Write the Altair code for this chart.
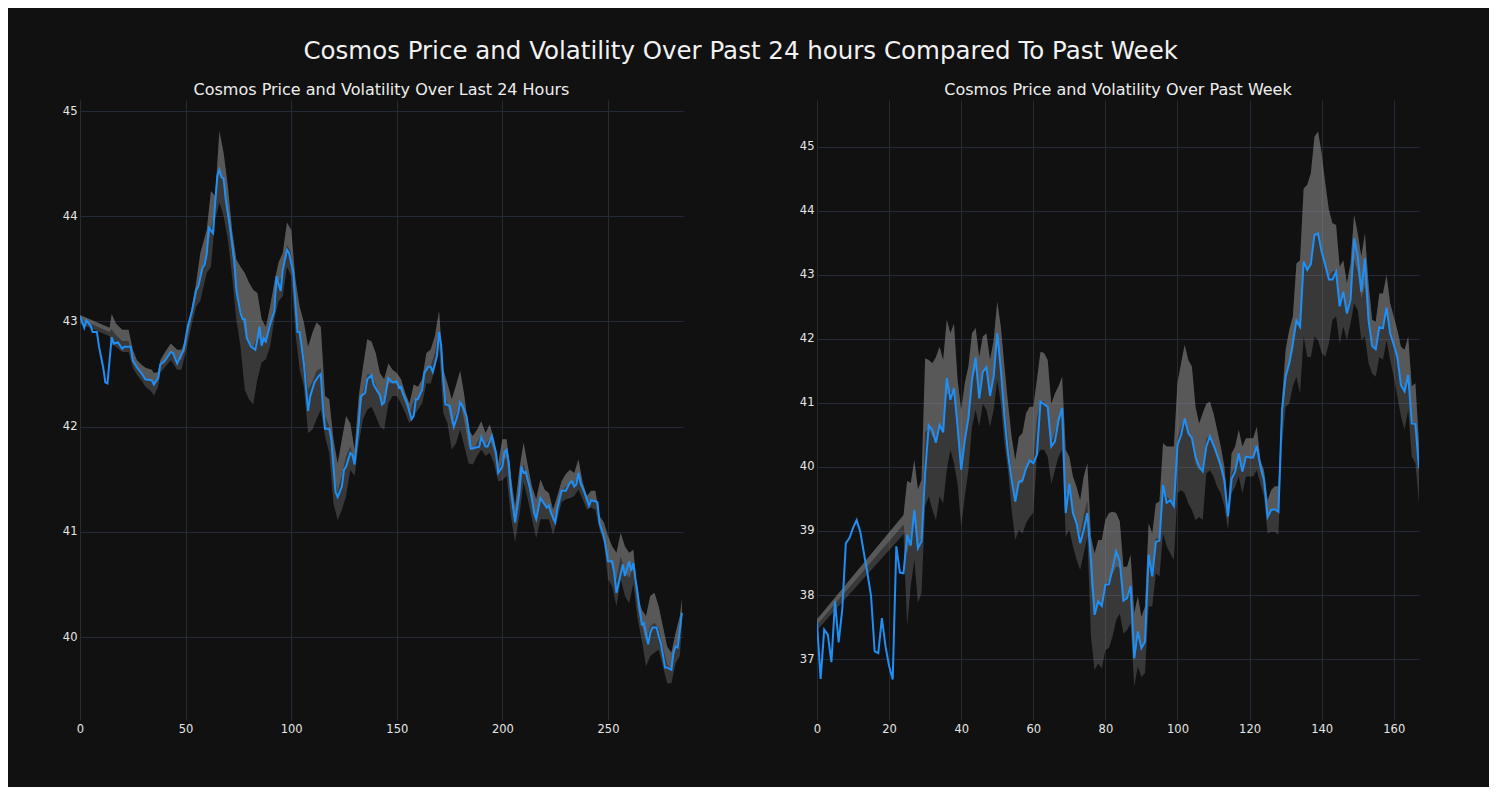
import altair as alt
import pandas as pd

# ---------------- Left panel: last 24 hours ----------------
day_x = [0, 2, 3, 5, 6, 8, 9, 11, 12, 13, 15, 16, 18, 20, 21, 24, 25, 27, 29, 31, 34, 35, 37, 38, 40,
         43, 44, 46, 48, 49, 51, 53, 55, 56, 58, 59, 60, 61, 63, 64, 65, 66, 67, 68, 69, 71, 73, 74, 76,
         77, 78, 79, 81, 83, 84, 85, 86, 87, 88, 90, 92, 93, 95, 96, 98, 99, 101, 102, 103, 104, 106,
         108, 109, 111, 113, 114, 115, 116, 118, 119, 120, 121, 122, 124, 125, 126, 128, 129, 130, 132,
         133, 135, 136, 138, 139, 141, 142, 143, 144, 146, 148, 150, 151, 152, 153, 155, 156, 157, 158,
         159, 160, 162, 163, 165, 166, 167, 169, 170, 171, 172, 173, 175, 177, 178, 179, 180, 181, 183,
         184, 185, 187, 189, 190, 192, 193, 195, 197, 198, 200, 201, 202, 203, 204, 206, 208, 209, 210,
         211, 213, 214, 215, 216, 218, 219, 221, 222, 223, 225, 226, 228, 230, 232, 233, 234, 235, 236,
         237, 239, 241, 242, 244, 245, 246, 248, 249, 250, 252, 253, 254, 256, 257, 258, 260, 261, 262,
         263, 264, 265, 266, 267, 269, 270, 271, 273, 274, 275, 276, 277, 278, 280, 281, 282, 283, 284,
         285]
day_price = [43.05, 42.94, 43.01, 42.96, 42.90, 42.90, 42.76, 42.56, 42.42, 42.41, 42.85, 42.79, 42.80,
             42.74, 42.76, 42.76, 42.63, 42.56, 42.51, 42.45, 42.44, 42.40, 42.46, 42.59, 42.62, 42.71,
             42.70, 42.60, 42.69, 42.72, 42.95, 43.10, 43.30, 43.33, 43.51, 43.54, 43.64, 43.89, 43.84,
             44.13, 44.38, 44.44, 44.37, 44.36, 44.16, 43.90, 43.59, 43.30, 43.08, 43.02, 43.02, 42.84,
             42.76, 42.73, 42.83, 42.95, 42.77, 42.84, 42.81, 42.97, 43.10, 43.43, 43.29, 43.49, 43.68,
             43.65, 43.46, 43.16, 42.90, 42.90, 42.60, 42.15, 42.29, 42.42, 42.48, 42.50, 42.20, 41.98,
             41.98, 41.88, 41.62, 41.38, 41.33, 41.43, 41.59, 41.62, 41.75, 41.73, 41.64, 42.03, 42.29,
             42.32, 42.45, 42.49, 42.40, 42.33, 42.30, 42.21, 42.23, 42.46, 42.42, 42.43, 42.37, 42.38,
             42.31, 42.22, 42.14, 42.07, 42.10, 42.26, 42.26, 42.35, 42.51, 42.57, 42.57, 42.52, 42.67,
             42.90, 42.77, 42.45, 42.21, 42.20, 42.00, 42.06, 42.13, 42.23, 42.20, 42.10, 41.97, 41.79,
             41.80, 41.81, 41.90, 41.81, 41.81, 41.91, 41.75, 41.56, 41.62, 41.76, 41.78, 41.66, 41.40,
             41.09, 41.37, 41.62, 41.56, 41.57, 41.42, 41.31, 41.18, 41.12, 41.32, 41.29, 41.23, 41.25,
             41.18, 41.09, 41.22, 41.39, 41.39, 41.47, 41.48, 41.43, 41.45, 41.56, 41.46, 41.37, 41.25,
             41.30, 41.29, 41.28, 41.08, 40.96, 40.85, 40.72, 40.72, 40.60, 40.42, 40.60, 40.69, 40.58,
             40.72, 40.63, 40.70, 40.55, 40.42, 40.26, 40.12, 40.13, 39.93, 40.04, 40.09, 40.09, 40.01,
             39.94, 39.83, 39.71, 39.71, 39.69, 39.85, 39.91, 39.90, 40.07, 40.23]

day_band_x = [0, 14, 15, 17, 20, 23, 25, 27, 29, 31, 34, 35, 37, 38, 40, 43, 46, 48, 50, 53, 55, 57, 60,
              62, 64, 66, 68, 70, 72, 74, 76, 78, 80, 82, 84, 86, 88, 90, 92, 94, 96, 98, 100, 102, 104,
              106, 108, 110, 112, 114, 116, 118, 120, 122, 124, 126, 128, 130, 132, 134, 136, 138, 140,
              142, 144, 146, 148, 150, 152, 154, 156, 158, 160, 162, 164, 166, 168, 170, 172, 174, 176,
              178, 180, 182, 184, 186, 188, 190, 192, 194, 196, 198, 200, 202, 204, 206, 208, 210, 212,
              214, 216, 218, 220, 222, 224, 226, 228, 230, 232, 234, 236, 238, 240, 242, 244, 246, 248,
              250, 252, 254, 256, 258, 260, 262, 264, 266, 268, 270, 272, 274, 276, 278, 280, 282, 284, 285]
day_band_lo = [42.98, 42.86, 42.78, 42.76, 42.71, 42.71, 42.56, 42.49, 42.44, 42.38, 42.33, 42.29, 42.38,
               42.51, 42.56, 42.63, 42.54, 42.54, 42.70, 42.98, 43.14, 43.20, 43.46, 43.52, 43.97, 44.13,
               44.00, 43.78, 43.43, 43.02, 42.76, 42.35, 42.26, 42.21, 42.45, 42.61, 42.64, 42.76, 43.02,
               43.19, 43.24, 43.52, 43.43, 42.89, 42.54, 42.38, 41.94, 41.97, 42.07, 42.16, 41.91, 41.75,
               41.27, 41.11, 41.21, 41.34, 41.59, 41.53, 41.84, 42.07, 42.16, 42.19, 42.10, 42.00, 41.97,
               42.22, 42.29, 42.29, 42.22, 42.13, 42.03, 42.10, 42.16, 42.22, 42.41, 42.41, 42.54, 42.76,
               42.13, 42.03, 41.78, 41.84, 41.97, 41.81, 41.65, 41.64, 41.72, 41.78, 41.72, 41.75, 41.65,
               41.48, 41.49, 41.53, 41.15, 40.90, 41.15, 41.47, 41.31, 41.12, 40.94, 41.12, 41.12, 41.12,
               40.97, 41.12, 41.28, 41.31, 41.32, 41.34, 41.40, 41.31, 41.21, 41.23, 41.21, 41.02, 40.90,
               40.55, 40.48, 40.29, 40.55, 40.39, 40.32, 40.51, 40.17, 39.97, 39.72, 39.82, 39.85, 39.88,
               39.72, 39.56, 39.56, 39.75, 39.82, 40.10]
day_band_hi = [43.06, 42.94, 43.07, 42.98, 42.92, 42.92, 42.73, 42.63, 42.59, 42.56, 42.54, 42.51, 42.52,
               42.63, 42.70, 42.79, 42.73, 42.73, 42.83, 43.14, 43.37, 43.65, 43.87, 44.24, 44.19, 44.81,
               44.60, 44.29, 43.87, 43.59, 43.52, 43.46, 43.37, 43.30, 43.27, 43.02, 42.95, 43.14, 43.37,
               43.56, 43.65, 43.94, 43.87, 43.40, 43.14, 42.99, 42.76, 42.89, 42.99, 42.95, 42.29, 42.26,
               41.88, 41.65, 41.88, 42.10, 42.03, 41.78, 42.29, 42.57, 42.83, 42.81, 42.70, 42.51, 42.45,
               42.60, 42.54, 42.51, 42.45, 42.32, 42.22, 42.40, 42.38, 42.45, 42.70, 42.73, 42.86, 43.10,
               42.54, 42.41, 42.26, 42.39, 42.53, 42.29, 41.97, 41.91, 41.97, 42.05, 41.94, 42.02, 41.88,
               41.65, 41.88, 41.88, 41.53, 41.24, 41.59, 41.85, 41.63, 41.43, 41.31, 41.50, 41.40, 41.37,
               41.21, 41.34, 41.48, 41.55, 41.59, 41.56, 41.69, 41.47, 41.34, 41.39, 41.39, 41.15, 41.09,
               40.96, 40.86, 40.80, 40.99, 40.86, 40.80, 40.83, 40.39, 40.26, 40.20, 40.39, 40.42, 40.29,
               40.10, 39.91, 39.85, 40.04, 40.20, 40.36]

# ---------------- Right panel: past week ----------------
week_x = list(range(168))
week_price = [37.57, 36.69, 37.46, 37.38, 36.95, 37.90, 37.26, 37.77, 38.81, 38.89, 39.05, 39.17, 38.99,
              38.66, 38.34, 37.98, 37.12, 37.09, 37.64, 37.20, 36.89, 36.68, 38.76, 38.35, 38.34, 38.94,
              38.77, 39.33, 38.73, 38.84, 39.91, 40.65, 40.58, 40.38, 40.66, 40.54, 41.39, 41.05, 41.23,
              40.63, 39.96, 40.42, 40.76, 41.36, 41.71, 41.07, 41.49, 41.56, 41.11, 41.41, 42.09, 41.52,
              40.79, 40.21, 39.80, 39.46, 39.77, 39.79, 39.98, 40.10, 40.06, 40.19, 41.02, 40.98, 40.94,
              40.32, 40.40, 40.73, 40.92, 39.28, 39.74, 39.28, 39.12, 38.81, 39.02, 39.28, 38.55, 37.69,
              37.90, 37.83, 38.16, 38.17, 38.42, 38.68, 38.52, 37.91, 37.95, 38.14, 37.01, 37.43, 37.17,
              37.27, 38.63, 38.29, 38.83, 38.85, 39.72, 39.44, 39.48, 39.39, 40.34, 40.50, 40.76, 40.53,
              40.45, 40.16, 40.01, 39.93, 40.32, 40.48, 40.34, 40.19, 40.03, 39.80, 39.23, 39.81, 39.93,
              40.21, 39.93, 40.16, 40.15, 40.15, 40.33, 40.01, 39.80, 39.22, 39.33, 39.34, 39.30, 40.89,
              41.41, 41.62, 41.93, 42.29, 42.19, 43.21, 43.08, 43.17, 43.63, 43.65, 43.36, 43.16, 42.93,
              42.93, 43.05, 42.51, 42.74, 42.40, 42.61, 43.57, 43.29, 42.74, 43.26, 42.30, 41.89, 41.84,
              42.19, 42.17, 42.49, 42.09, 41.91, 41.72, 41.28, 41.18, 41.44, 40.68, 40.67, 39.98]

week_band_x = [0] + list(range(24, 168))
week_band_lo = [37.45, 38.95, 37.51, 38.14, 38.55, 37.88, 38.03, 39.39, 39.54, 39.33, 39.17, 39.54, 39.43,
                39.95, 40.27, 40.06, 39.74, 39.07, 39.54, 39.95, 40.63, 40.89, 40.63, 40.99, 40.89, 40.63,
                40.89, 41.36, 40.99, 40.37, 39.95, 39.33, 38.86, 39.02, 38.96, 39.12, 39.22, 39.28, 40.16,
                40.27, 40.27, 40.16, 39.74, 39.95, 40.16, 40.27, 38.91, 39.02, 38.76, 38.55, 38.39, 38.65,
                38.91, 37.35, 36.83, 36.93, 36.85, 37.14, 37.17, 37.35, 37.61, 37.71, 37.40, 37.45, 37.56,
                36.57, 36.88, 36.72, 36.78, 37.82, 37.82, 38.34, 38.29, 38.96, 38.76, 38.65, 38.55, 39.59,
                39.64, 39.59, 39.43, 39.33, 39.17, 39.22, 39.17, 39.90, 39.95, 39.85, 39.69, 39.59, 39.38,
                39.02, 39.59, 39.69, 39.85, 39.59, 39.85, 39.85, 39.85, 39.95, 39.74, 39.54, 38.96, 38.99,
                38.99, 38.94, 40.37, 40.94, 40.99, 41.26, 41.41, 41.15, 42.04, 41.72, 41.72, 42.04, 41.98,
                41.78, 41.72, 41.93, 42.30, 42.35, 41.93, 42.19, 41.98, 42.24, 42.56, 42.45, 41.98, 42.04,
                41.62, 41.46, 41.41, 41.72, 41.67, 41.98, 41.67, 41.41, 41.10, 40.79, 40.58, 40.89, 40.16,
                40.06, 39.43]
week_band_hi = [37.62, 39.25, 39.78, 39.75, 40.11, 39.65, 39.80, 41.70, 41.67, 41.62, 41.72, 41.88, 41.67,
                42.30, 42.09, 42.24, 41.36, 40.89, 41.31, 41.57, 42.09, 42.17, 41.72, 42.04, 42.09, 41.67,
                41.98, 42.58, 42.19, 41.57, 40.99, 40.47, 40.11, 40.47, 40.53, 40.84, 40.94, 40.94, 41.36,
                41.80, 41.78, 41.67, 40.99, 41.15, 41.26, 41.41, 40.27, 40.16, 39.85, 39.69, 39.48, 39.85,
                40.06, 38.91, 38.65, 38.86, 38.86, 39.17, 39.28, 39.30, 39.28, 39.15, 38.44, 38.44, 38.63,
                37.72, 37.98, 37.66, 37.82, 39.12, 38.96, 39.43, 39.46, 40.37, 40.32, 40.32, 40.32, 41.31,
                41.62, 41.91, 41.67, 41.57, 40.94, 40.68, 40.84, 40.99, 41.02, 40.84, 40.58, 40.32, 40.01,
                39.33, 40.21, 40.32, 40.58, 40.32, 40.45, 40.45, 40.45, 40.63, 40.11, 39.95, 39.48, 39.64,
                39.70, 39.70, 41.05, 41.83, 42.14, 42.35, 43.18, 43.23, 44.35, 44.41, 44.59, 45.16, 45.24,
                44.90, 44.43, 44.02, 43.81, 43.78, 43.13, 43.23, 42.87, 43.18, 43.94, 43.65, 43.29, 43.65,
                42.87, 42.30, 42.27, 42.71, 42.71, 43.00, 42.56, 42.35, 42.14, 41.88, 41.83, 42.04, 41.26,
                41.31, 40.37]

day_xticks = [0, 50, 100, 150, 200, 250]
day_yticks = [40, 41, 42, 43, 44, 45]
week_xticks = [0, 20, 40, 60, 80, 100, 120, 140, 160]
week_yticks = [37, 38, 39, 40, 41, 42, 43, 44, 45]

BG = "#111111"
GRID = "#242b36"
LABEL = "#e6e6e6"
FONT = "DejaVu Sans"


def panel(lx, ly, bx, blo, bhi, xdom, ydom, xticks, yticks, title, width):
    line_df = pd.DataFrame({"x": lx, "price": ly})
    band_df = pd.DataFrame({"x": bx, "lo": blo, "hi": bhi})
    xs = alt.Scale(domain=xdom, nice=False, zero=False)
    ys = alt.Scale(domain=ydom, nice=False, zero=False)
    xaxis = alt.Axis(values=xticks, format="d", grid=True, gridColor=GRID, gridWidth=1, domain=False,
                     ticks=False, labelPadding=3, labelColor=LABEL, labelFontSize=11.5, labelFont=FONT,
                     title=None, labelFlush=False)
    yaxis = alt.Axis(values=yticks, format="d", grid=True, gridColor=GRID, gridWidth=1, domain=False,
                     ticks=False, labelPadding=3, labelColor=LABEL, labelFontSize=11.5, labelFont=FONT,
                     title=None, labelFlush=False)
    band_dark = alt.Chart(band_df).mark_area(color="#999999", opacity=0.29, clip=True).encode(
        x=alt.X("x:Q", scale=xs, axis=xaxis),
        y=alt.Y("lo:Q", scale=ys, axis=yaxis),
        y2="hi:Q",
    )
    band_light = alt.Chart(band_df).transform_calculate(
        mid="(datum.lo + datum.hi) / 2"
    ).mark_area(color="#999999", opacity=0.34, clip=True).encode(
        x=alt.X("x:Q", scale=xs),
        y=alt.Y("mid:Q", scale=ys),
        y2="hi:Q",
    )
    line = alt.Chart(line_df).mark_line(color="#1f8ff5", strokeWidth=2, clip=True).encode(
        x=alt.X("x:Q", scale=xs),
        y=alt.Y("price:Q", scale=ys),
    )
    return alt.layer(band_dark, band_light, line).properties(
        width=width, height=620,
        title=alt.TitleParams(title, fontSize=16, font=FONT, fontWeight="normal", color="#eeeeee",
                              offset=2, anchor="middle"),
    )


left = panel(day_x, day_price, day_band_x, day_band_lo, day_band_hi, [0, 285.5], [39.211, 45.105],
             day_xticks, day_yticks, "Cosmos Price and Volatility Over Last 24 Hours", 603)
right = panel(week_x, week_price, week_band_x, week_band_lo, week_band_hi, [0, 167], [36.047, 45.734],
              week_xticks, week_yticks, "Cosmos Price and Volatility Over Past Week", 602)

chart = alt.hconcat(left, right, spacing=134, bounds="flush").properties(
    background=BG,
    padding={"left": 54, "top": 30, "right": 70, "bottom": 52},
    title=alt.TitleParams("Cosmos Price and Volatility Over Past 24 hours Compared To Past Week",
                          fontSize=24.5, font=FONT, fontWeight="normal", color="#f2f2f2",
                          anchor="middle", offset=18),
).configure_view(stroke=None)

chart.save("out.html", embed_options={"renderer": "svg", "actions": False})
